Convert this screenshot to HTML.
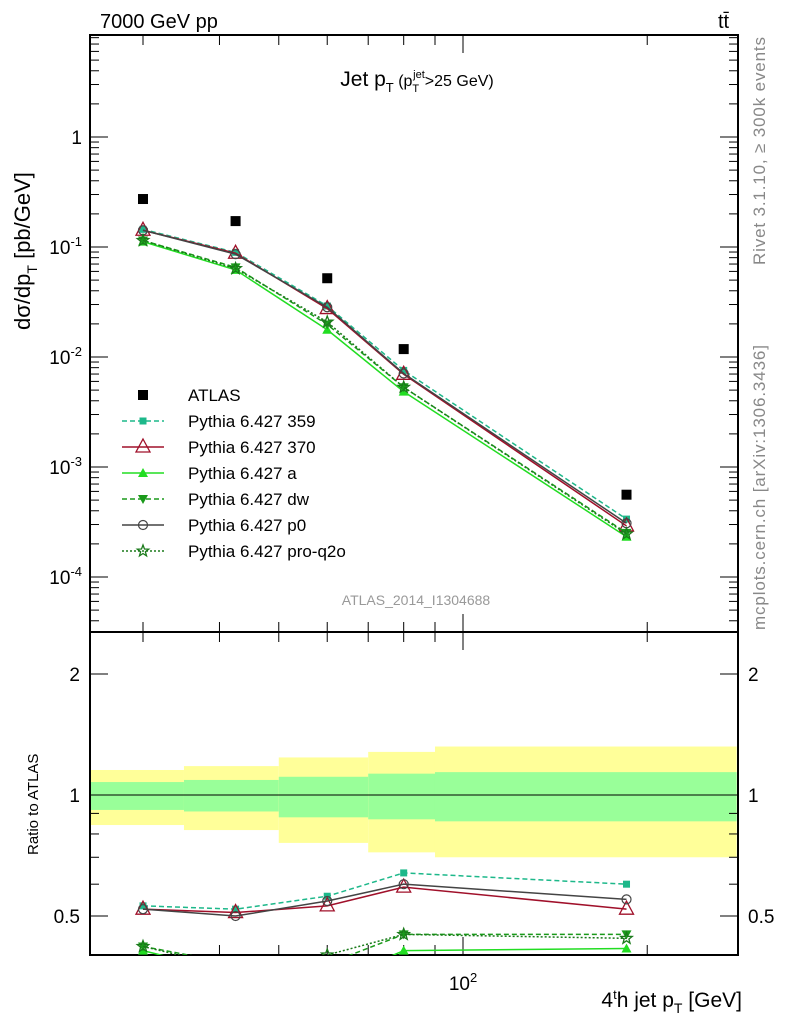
<!DOCTYPE html>
<html><head><meta charset="utf-8"><style>
body{margin:0;background:#fff;width:786px;height:1024px;overflow:hidden;font-family:"Liberation Sans",sans-serif}
svg text{font-family:"Liberation Sans",sans-serif}
</style></head><body>
<svg id="c" width="786" height="1024" xmlns="http://www.w3.org/2000/svg">
<g id="bands"></g>
<g id="axes"></g>
<g id="series"></g>
<text x="100" y="28" font-size="20">7000 GeV pp</text>
<text x="718" y="28" font-size="20">tt̄</text>
<text x="417" y="86" font-size="21" text-anchor="middle">Jet p<tspan font-size="13" dy="6">T</tspan><tspan font-size="16" dy="-6"> (p</tspan><tspan font-size="11" dy="6">T</tspan><tspan font-size="11" dy="-14" dx="-6">jet</tspan><tspan font-size="16" dy="8">&gt;25 GeV)</tspan></text>
<text transform="translate(30,330) rotate(-90)" font-size="22">dσ/dp<tspan font-size="14" dy="7">T</tspan><tspan dy="-7"> [pb/GeV]</tspan></text>
<text transform="translate(38,855) rotate(-90)" font-size="15">Ratio to ATLAS</text>
<text transform="translate(765,265) rotate(-90)" font-size="17" fill="#888" textLength="228">Rivet 3.1.10, ≥ 300k events</text>
<text transform="translate(765,630) rotate(-90)" font-size="17" fill="#888" textLength="285">mcplots.cern.ch [arXiv:1306.3436]</text>
<text x="416" y="605" font-size="14" fill="#999" text-anchor="middle">ATLAS_2014_I1304688</text>
<text x="742" y="1007" font-size="21" text-anchor="end">4<tspan font-size="13" dy="-8">t</tspan><tspan dy="8">h jet p</tspan><tspan font-size="14" dy="6">T</tspan><tspan dy="-6"> [GeV]</tspan></text>
<g id="legend"></g>
</svg>
<script>
const xCenters=[30,42.5,60,80,185];
const binEdges=[24.3,35,50,70,90,280];
const atlas=[0.273,0.172,0.052,0.0118,0.00056];
const r359=[0.53,0.52,0.56,0.64,0.60];
const r370=[0.52,0.51,0.53,0.59,0.52];
const rA=[0.41,0.36,0.34,0.41,0.415];
const rDW=[0.42,0.38,0.38,0.45,0.45];
const rP0=[0.52,0.50,0.545,0.60,0.55];
const rPRO=[0.42,0.37,0.40,0.45,0.44];
const yellowHi=[1.154,1.18,1.24,1.28,1.32];
const yellowLo=[0.842,0.818,0.76,0.72,0.70];
const greenHi=[1.077,1.09,1.11,1.13,1.14];
const greenLo=[0.918,0.91,0.88,0.87,0.86];
const mainTicks=[["1",0],["10","-1"],["10","-2"],["10","-3"],["10","-4"]];

const NS="http://www.w3.org/2000/svg";
const L=90,R=738,T=35,MB=632,RB=955;
const X=v=>463+612*(Math.log10(v)-2);
const Y=v=>137-110*Math.log10(v);
const RY=v=>795-402*Math.log10(v);
function mk(p,tag,at){const e=document.createElementNS(NS,tag);for(const k in at)e.setAttribute(k,at[k]);p.appendChild(e);return e;}
const bands=document.getElementById('bands'),axes=document.getElementById('axes'),ser=document.getElementById('series'),leg=document.getElementById('legend');
for(let i=0;i<5;i++){
 const x0=Math.max(X(binEdges[i]),L),x1=Math.min(X(binEdges[i+1]),R);
 let e=mk(bands,'rect',{x:x0,y:RY(yellowHi[i]),width:x1-x0,height:RY(yellowLo[i])-RY(yellowHi[i]),fill:'#ffff99'});
 
 
 e=mk(bands,'rect',{x:x0,y:RY(greenHi[i]),width:x1-x0,height:RY(greenLo[i])-RY(greenHi[i]),fill:'#99ff99'});
 
 
}
mk(axes,'line',{x1:L,x2:R,y1:RY(1),y2:RY(1),stroke:'#000','stroke-width':1});
mk(axes,'rect',{x:L,y:T,width:R-L,height:MB-T,fill:'none',stroke:'#000','stroke-width':2});
mk(axes,'rect',{x:L,y:MB,width:R-L,height:RB-MB,fill:'none',stroke:'#000','stroke-width':2});
for(const d of [10,100]){for(let k=1;k<10;k++){const v=d*k;const x=X(v);if(x<L||x>R)continue;const big=(k==1);
 for(const [yb,yt] of [[MB,T],[RB,MB]]){mk(axes,'line',{x1:x,x2:x,y1:yb,y2:yb-(big?18:10),stroke:'#000'});mk(axes,'line',{x1:x,x2:x,y1:yt,y2:yt+(big?18:10),stroke:'#000'});}}}
const xl=mk(axes,'text',{x:463,y:990,'font-size':19,'text-anchor':'middle'});xl.innerHTML='10<tspan font-size="13" dy="-8">2</tspan>';
for(let e=-5;e<=1;e++){for(let k=1;k<10;k++){const v=k*Math.pow(10,e);const y=Y(v);if(y<T||y>MB)continue;const w=k==1?18:9;
 mk(axes,'line',{x1:L,x2:L+w,y1:y,y2:y,stroke:'#000'});mk(axes,'line',{x1:R,x2:R-w,y1:y,y2:y,stroke:'#000'});}}
mainTicks.forEach((t,i)=>{const y=Y(Math.pow(10,-i))+7;const e=mk(axes,'text',{x:82,y:y,'font-size':19,'text-anchor':'end'});
 e.innerHTML=t[1]===0?'1':'10<tspan font-size="13" dy="-8">'+t[1]+'</tspan>';});
for(const v of [0.4,0.5,0.6,0.7,0.8,0.9,1,2]){const y=RY(v);const w=(v==0.5||v==1||v==2)?18:9;
 mk(axes,'line',{x1:L,x2:L+w,y1:y,y2:y,stroke:'#000'});mk(axes,'line',{x1:R,x2:R-w,y1:y,y2:y,stroke:'#000'});}
for(const [v,s] of [[2,'2'],[1,'1'],[0.5,'0.5']]){const y=RY(v)+7;
 mk(axes,'text',{x:80,y:y,'font-size':19,'text-anchor':'end'}).textContent=s;
 mk(axes,'text',{x:748,y:y,'font-size':19}).textContent=s;}
function marker(g,type,x,y,c){
 if(type=='sq')mk(g,'rect',{x:x-5,y:y-5,width:10,height:10,fill:c});
 else if(type=='sqs')mk(g,'rect',{x:x-3.5,y:y-3.5,width:7,height:7,fill:c});
 else if(type=='tri')mk(g,'path',{d:`M${x},${y-8}L${x+7},${y+5}L${x-7},${y+5}Z`,fill:'none',stroke:c,'stroke-width':1.3});
 else if(type=='trif')mk(g,'path',{d:`M${x},${y-5}L${x+5},${y+4}L${x-5},${y+4}Z`,fill:c});
 else if(type=='trid')mk(g,'path',{d:`M${x},${y+5}L${x+5},${y-4}L${x-5},${y-4}Z`,fill:c});
 else if(type=='circ')mk(g,'circle',{cx:x,cy:y,r:4.5,fill:'none',stroke:c,'stroke-width':1.2});
 else if(type=='star'){let p='';for(let i=0;i<10;i++){const a=-Math.PI/2+i*Math.PI/5,rr=i%2?2.5:6;p+=(i?'L':'M')+(x+rr*Math.cos(a))+','+(y+rr*Math.sin(a));}mk(g,'path',{d:p+'Z',fill:'none',stroke:c,'stroke-width':1.3});}
}
const models=[
 ['pythia-359',r359,'#1db88a','5,3','sqs','Pythia 6.427 359'],
 ['pythia-370',r370,'#a0102a','','tri','Pythia 6.427 370'],
 ['pythia-a',rA,'#22dd22','','trif','Pythia 6.427 a'],
 ['pythia-dw',rDW,'#1a9a1a','5,3','trid','Pythia 6.427 dw'],
 ['pythia-p0',rP0,'#444','','circ','Pythia 6.427 p0'],
 ['pythia-pro-q2o',rPRO,'#1a7a1a','2,2','star','Pythia 6.427 pro-q2o']];
const clipR=mk(ser,'clipPath',{id:'cr'});mk(clipR,'rect',{x:L,y:MB,width:R-L,height:RB-MB});
models.forEach(m=>{
 const g=mk(ser,'g',{});
 
 
 const pts=xCenters.map((x,i)=>[X(x),Y(atlas[i]*m[1][i])]);
 mk(g,'polyline',{points:pts.map(p=>p.join(',')).join(' '),fill:'none',stroke:m[2],'stroke-width':1.5,'stroke-dasharray':m[3]});
 pts.forEach(p=>marker(g,m[4],p[0],p[1],m[2]));
 const gr=mk(ser,'g',{'clip-path':'url(#cr)'});
 
 
 const rp=xCenters.map((x,i)=>[X(x),RY(m[1][i])]);
 mk(gr,'polyline',{points:rp.map(p=>p.join(',')).join(' '),fill:'none',stroke:m[2],'stroke-width':1.5,'stroke-dasharray':m[3]});
 rp.forEach(p=>marker(gr,m[4],p[0],p[1],m[2]));
});
const ga=mk(ser,'g',{});


xCenters.forEach((x,i)=>marker(ga,'sq',X(x),Y(atlas[i]),'#000'));
const le=[['atlas','','#000','','sq','ATLAS']].concat(models);
le.forEach((m,i)=>{const y=395+26*i;const g=mk(leg,'g',{});
 
 
 if(i>0)mk(g,'line',{x1:122,x2:164,y1:y,y2:y,stroke:m[2],'stroke-width':1.5,'stroke-dasharray':m[3]});
 marker(g,m[4],143,y,m[2]);
 mk(g,'text',{x:188,y:y+6,'font-size':17}).textContent=m[5];});
</script>
</body></html>
